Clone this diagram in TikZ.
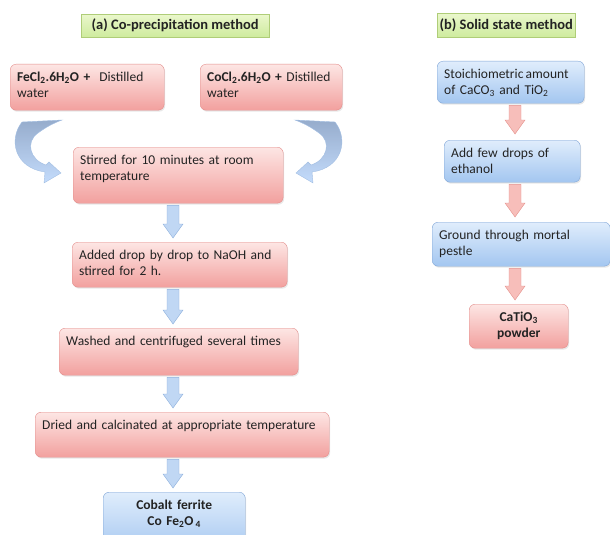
\documentclass[tikz,border=0pt]{standalone}
\usepackage{fontspec}
\setmainfont{Carlito}
\usepackage{tikz}
\usetikzlibrary{positioning, calc, shadows}
\definecolor{pinktop}{RGB}{253,230,228}
\definecolor{pinkbot}{RGB}{242,160,158}
\definecolor{pinkline}{RGB}{226,140,138}
\definecolor{bluetop}{RGB}{224,237,252}
\definecolor{bluebot}{RGB}{163,198,240}
\definecolor{blueline}{RGB}{128,166,215}
\definecolor{greentop}{RGB}{234,247,204}
\definecolor{greenbot}{RGB}{206,235,158}
\definecolor{greenline}{RGB}{175,205,120}
\definecolor{arrblue}{RGB}{192,215,244}
\definecolor{arrblueline}{RGB}{140,175,220}
\definecolor{arrpink}{RGB}{247,190,186}
\definecolor{arrpinkline}{RGB}{228,145,140}
\definecolor{curvetop}{RGB}{150,172,204}
\definecolor{curvebot}{RGB}{196,220,252}
\definecolor{txtcol}{RGB}{35,35,35}
\tikzset{
  basebox/.style={rectangle,rounded corners=6pt,anchor=north west,align=left,
    font=\fontsize{13.5}{16.5}\selectfont,text=txtcol,inner xsep=7pt,inner ysep=5pt,
    text height=12pt,drop shadow={shadow xshift=1pt,shadow yshift=-1.5pt,opacity=0.18}},
  pinkbox/.style={basebox,draw=pinkline,top color=pinktop,bottom color=pinkbot},
  bluebox/.style={basebox,draw=blueline,top color=bluetop,bottom color=bluebot},
  titlebox/.style={rectangle,anchor=north west,draw=greenline,top color=greentop,
    bottom color=greenbot,font=\fontsize{14.5}{16}\selectfont\bfseries,text=txtcol,
    inner sep=0pt,align=center},
  bluearr/.style={draw=arrblueline,fill=arrblue},
  pinkarr/.style={draw=arrpinkline,fill=arrpink},
  curvearr/.style={draw=arrblueline!80,top color=curvetop,bottom color=curvebot}
}
%% fat block arrow between two points
\newcommand{\fatarrow}[3]{%
  \path[#1] let \p1=(#2), \p2=(#3) in
    (\x1-6pt,\y1) -- (\x1+6pt,\y1) -- (\x1+6pt,\y2+14pt) -- (\x1+10pt,\y2+14pt)
    -- (\x1,\y2) -- (\x1-10pt,\y2+14pt) -- (\x1-6pt,\y2+14pt) -- cycle;}

\begin{document}
\begin{tikzpicture}[x=1pt,y=1pt]
  \path[use as bounding box,clip] (0,0) rectangle (610,-535);

  %% (a) co-precipitation
  \node[titlebox,minimum width=188pt,minimum height=23pt] (ttla) at (81,-14) {(a) Co-precipitation method};
  \node[pinkbox,text width=140pt,text depth=24pt] (fecl) at (10,-64)
    {\textbf{FeCl\textsubscript{2}.6H\textsubscript{2}O +}~ Distilled\\water};
  \node[pinkbox,text width=128pt,text depth=24pt] (cocl) at (200,-64)
    {\textbf{CoCl\textsubscript{2}.6H\textsubscript{2}O +} Distilled\\water};
  \node[pinkbox,text width=196pt,text depth=34pt] (stir) at (73,-147)
    {Stirred for 10 minutes at room\\temperature};
  \node[pinkbox,text width=201pt,text depth=23pt] (addn) at (72,-242)
    {Added drop by drop to NaOH and\\stirred for 2 h.};
  \node[pinkbox,text width=225pt,text depth=25pt] (wash) at (59,-328)
    {Washed and centrifuged several times};
  \node[pinkbox,text width=280pt,text depth=23pt] (dry) at (35,-412)
    {Dried and calcinated at appropriate temperature};
  \node[bluebox,align=center,font=\fontsize{13.5}{16.5}\selectfont\bfseries,
        text width=128pt,text depth=40pt] (cofe) at (103,-492)
    {Cobalt ferrite\\Co Fe\textsubscript{2}O\,\textsubscript{4}};

  %% (b) solid state
  \node[titlebox,minimum width=138pt,minimum height=24pt] (ttlb) at (437,-13) {(b) Solid state method};
  \node[bluebox,text width=133pt,text depth=20pt] (stoi) at (437,-61)
    {Stoichiometric\,amount\\of CaCO\textsubscript{3} and TiO\textsubscript{2}};
  \node[bluebox,text width=122pt,text depth=20pt] (etha) at (444,-140)
    {Add few drops of\\ethanol};
  \node[bluebox,text width=164pt,text depth=22pt] (grnd) at (432,-222)
    {Ground through mortal\\pestle};
  \node[pinkbox,align=center,font=\fontsize{13.5}{16.5}\selectfont\bfseries,
        text width=85pt,text depth=22pt] (cati) at (469,-304)
    {CaTiO\textsubscript{3}\\powder};

  %% arrows
  \coordinate (axa) at (173,0);
  \coordinate (axb) at (515,0);
  \fatarrow{bluearr}{$(axa |- stir.south)+(0,-2)$}{$(axa |- addn.north)+(0,4)$}
  \fatarrow{bluearr}{$(axa |- addn.south)+(0,-2)$}{$(axa |- wash.north)+(0,4)$}
  \fatarrow{bluearr}{$(axa |- wash.south)+(0,-2)$}{$(axa |- dry.north)+(0,4)$}
  \fatarrow{bluearr}{$(axa |- dry.south)+(0,-2)$}{$(axa |- cofe.north)+(0,4)$}
  \fatarrow{pinkarr}{$(axb |- stoi.south)+(0,-2)$}{$(axb |- etha.north)+(0,6)$}
  \fatarrow{pinkarr}{$(axb |- etha.south)+(0,-2)$}{$(axb |- grnd.north)+(0,5)$}
  \fatarrow{pinkarr}{$(axb |- grnd.south)+(0,-2)$}{$(axb |- cati.north)+(0,4)$}

  %% curved arrows into the stirring step
  \path[curvearr] (22,-122) .. controls (8,-140) and (15,-168) .. (45,-172)
    -- (44,-183) -- (61,-173) -- (49,-162) -- (46,-165)
    .. controls (30,-160) and (25,-142) .. (38,-133)
    .. controls (46,-127) and (54,-123) .. (62,-120) -- cycle;
  \path[curvearr] (335,-122) .. controls (349,-140) and (342,-168) .. (312,-172)
    -- (313,-183) -- (296,-173) -- (308,-162) -- (311,-165)
    .. controls (327,-160) and (332,-142) .. (319,-133)
    .. controls (311,-127) and (303,-123) .. (295,-120) -- cycle;
\end{tikzpicture}
\end{document}
